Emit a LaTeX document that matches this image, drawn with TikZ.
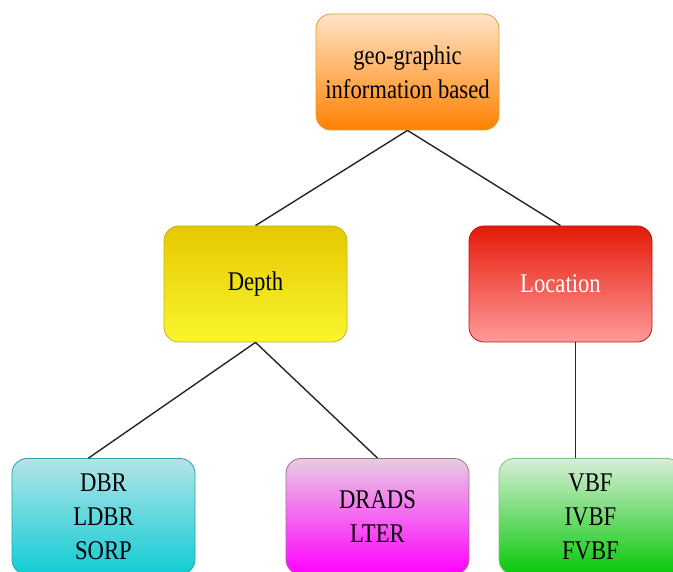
\documentclass[tikz,border=0pt]{standalone}
\usepackage{fontspec}
\setmainfont{Liberation Serif}[FakeStretch=0.84]

\definecolor{orgtop}{HTML}{FFE4C8}
\definecolor{orgbot}{HTML}{FF8000}
\definecolor{orgline}{HTML}{D9A030}
\definecolor{yeltop}{HTML}{E6C800}
\definecolor{yelbot}{HTML}{FAF62E}
\definecolor{yelline}{HTML}{C8B020}
\definecolor{redtop}{HTML}{E41A08}
\definecolor{redbot}{HTML}{FF9A9A}
\definecolor{redline}{HTML}{B81818}
\definecolor{cyntop}{HTML}{B2E4E8}
\definecolor{cynbot}{HTML}{10CCD4}
\definecolor{cynline}{HTML}{2CA0A8}
\definecolor{magtop}{HTML}{E8CCE2}
\definecolor{magbot}{HTML}{FF00FF}
\definecolor{magline}{HTML}{A07098}
\definecolor{grntop}{HTML}{D8EED8}
\definecolor{grnbot}{HTML}{08C808}
\definecolor{grnline}{HTML}{80C080}

\tikzset{
  box/.style={rounded corners=15pt, minimum width=183pt, minimum height=116pt,
    align=center, inner sep=0pt, line width=0.8pt,
    font=\fontsize{27}{34}\selectfont},
  link/.style={line width=1.4pt, draw=black!85}
}

\begin{document}
\begin{tikzpicture}[x=1pt,y=-1pt]
    \clip (0,0) rectangle (673,572);
    \fill[white] (0,0) rectangle (673,572);
    % top level
    \node[box, draw=orgline, top color=orgtop, bottom color=orgbot] (root) at (407.5,72) {geo-graphic\\information based};
    % second level
    \node[box, draw=yelline, top color=yeltop, bottom color=yelbot] (depth) at (255.5,284) {Depth};
    \node[box, draw=redline, top color=redtop, bottom color=redbot, text=white] (location) at (560.5,284) {Location};
    % leaves
    \node[box, draw=cynline, top color=cyntop, bottom color=cynbot] (dbr) at (103.5,516.5) {DBR\\LDBR\\SORP};
    \node[box, draw=magline, top color=magtop, bottom color=magbot] (drads) at (377.5,516.5) {DRADS\\LTER};
    \node[box, draw=grnline, top color=grntop, bottom color=grnbot] (vbf) at (590.5,516.5) {VBF\\IVBF\\FVBF};
    \draw[link] (root.south) -- (depth.north);
    \draw[link] (root.south) -- (location.north);
    \draw[link] (depth.south) -- ([xshift=-15pt]dbr.north);
    \draw[link] (depth.south) -- (drads.north);
    \draw[link] ([xshift=15pt]location.south) -- ([xshift=-15pt]vbf.north);
\end{tikzpicture}
\end{document}
